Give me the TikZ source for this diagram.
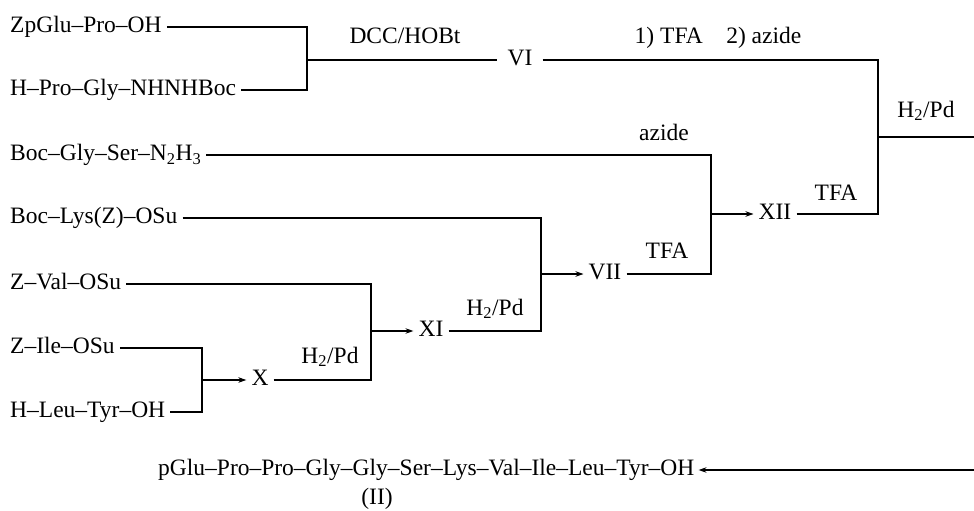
\documentclass[tikz,border=0pt]{standalone}
\usepackage{fontspec}
\setmainfont{Liberation Serif}
\usetikzlibrary{arrows.meta}
\begin{document}
\begin{tikzpicture}[x=1pt,y=-1pt,
  font=\fontsize{23.5}{27}\selectfont,
  ln/.style={line width=1.2pt},
  arr/.style={line width=1.2pt,-{Stealth[length=8pt,width=5.5pt]}},
  src/.style={anchor=west,inner xsep=5pt,inner ysep=0pt,text height=16pt,text depth=5pt},
  mid/.style={inner xsep=5pt,inner ysep=0pt,text height=16pt,text depth=5pt},
  lab/.style={anchor=base,inner sep=0pt}]
\useasboundingbox (0,0) rectangle (974,511);
% starting materials
\node[src] (a) at (5,27) {ZpGlu--Pro--OH};
\node[src] (b) at (5,90) {H--Pro--Gly--NHNHBoc};
\node[src] (c) at (5,155) {Boc--Gly--Ser--N\textsubscript{2}H\textsubscript{3}};
\node[src] (d) at (5,218) {Boc--Lys(Z)--OSu};
\node[src] (e) at (5,284) {Z--Val--OSu};
\node[src] (f) at (5,348) {Z--Ile--OSu};
\node[src] (g) at (5,412) {H--Leu--Tyr--OH};
% intermediates
\node[mid,inner xsep=10pt] (VI) at (520,60) {VI};
\node[mid] (X) at (260,380) {X};
\node[mid] (XI) at (431,331) {XI};
\node[mid] (VII) at (605,274) {VII};
\node[mid] (XII) at (775,214) {XII};
% product
\node[src,inner xsep=4pt] (P) at (154,470) {pGlu--Pro--Pro--Gly--Gly--Ser--Lys--Val--Ile--Leu--Tyr--OH};
\node[lab] (II) at (377,504) {(II)};
% junctions
\coordinate (j1) at (307,58.5);
\coordinate (j3) at (878,137);
\coordinate (j4) at (711,214);
\coordinate (j5) at (541,274);
\coordinate (j6) at (371,331);
\coordinate (j7) at (202,380);
\coordinate (e1) at (974,137);
\coordinate (e2) at (974,470);
% connectors
\draw[ln] (a.east) -| (j1);
\draw[ln] (b.east) -| (j1);
\draw[ln] (j1) |- (VI.west);
\draw[ln] (VI.east) -| (j3);
\draw[ln] (XII.east) -| (j3);
\draw[ln] (j3) -- (e1);
\draw[ln] (c.east) -| (j4);
\draw[ln] (VII.east) -| (j4);
\draw[arr] (j4) -- (XII.west);
\draw[ln] (d.east) -| (j5);
\draw[ln] (XI.east) -| (j5);
\draw[arr] (j5) -- (VII.west);
\draw[ln] (e.east) -| (j6);
\draw[ln] (X.east) -| (j6);
\draw[arr] (j6) -- (XI.west);
\draw[ln] (f.east) -| (j7);
\draw[ln] (g.east) -| (j7);
\draw[arr] (j7) -- (X.west);
\draw[arr] (e2) -- (P.east);
% reagent labels
\node[lab] (l1) at (405,44) {DCC/HOBt};
\node[lab] (l2) at (718,44) {1) TFA\quad 2) azide};
\node[lab] (l3) at (926,117) {H\textsubscript{2}/Pd};
\node[lab] (l4) at (664,140) {azide};
\node[lab] (l5) at (836,200) {TFA};
\node[lab] (l6) at (667,258) {TFA};
\node[lab] (l7) at (495,315) {H\textsubscript{2}/Pd};
\node[lab] (l8) at (330,363) {H\textsubscript{2}/Pd};
\end{tikzpicture}
\end{document}
